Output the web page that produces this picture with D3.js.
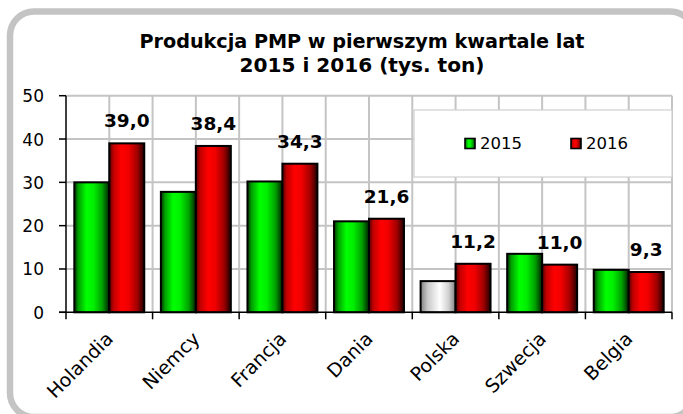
<!DOCTYPE html>
<html>
<head>
<meta charset="utf-8">
<script src="https://cdn.jsdelivr.net/npm/d3@7"></script>
<style>
html,body{margin:0;padding:0;background:#fff;}
svg{display:block;}
</style>
</head>
<body>
<svg id="chart" width="683" height="414"></svg>
<script>
const categories = ["Holandia","Niemcy","Francja","Dania","Polska","Szwecja","Belgia"];
const values2015 = [30.0, 27.8, 30.2, 21.0, 7.2, 13.5, 9.8];
const values2016 = [39.0, 38.4, 34.3, 21.6, 11.2, 11.0, 9.3];
const seriesNames = ["2015","2016"];
const yTicks = [0,10,20,30,40,50];
const titleLines = ["Produkcja PMP w pierwszym kwartale lat","2015 i 2016 (tys. ton)"];

const svg = d3.select("#chart");
const defs = svg.append("defs");
function grad(id, stops){
  const g = defs.append("linearGradient").attr("id",id).attr("x1","0%").attr("x2","100%").attr("y1","0%").attr("y2","0%");
  stops.forEach(s=>g.append("stop").attr("offset",s[0]).attr("stop-color",s[1]));
}
grad("gGreen",[["0%","#003300"],["12%","#00a000"],["35%","#00ff00"],["55%","#00f000"],["80%","#00a000"],["100%","#002000"]]);
grad("gRed",[["0%","#500000"],["12%","#c00000"],["35%","#ff0000"],["55%","#f00000"],["80%","#a00000"],["100%","#200000"]]);
grad("gGray",[["0%","#808080"],["20%","#c8c8c8"],["55%","#ffffff"],["80%","#d0d0d0"],["100%","#808080"]]);

// frame
svg.append("rect").attr("x",10).attr("y",11.5).attr("width",684).attr("height",405.5).attr("rx",24)
  .attr("fill","#fff").attr("stroke","#c4c4c4").attr("stroke-width",6.5);

const plotL = 66, plotR = 672, plotT = 95.7, plotB = 312.3;
const x = d3.scaleBand().domain(categories).range([plotL, plotR]).paddingInner(0).paddingOuter(0);
const bw = x.bandwidth();
const xs = d3.scaleBand().domain(seriesNames).range([bw*0.096, bw*0.904]).padding(0);
const y = d3.scaleLinear().domain([0,50]).range([plotB, plotT]);

// gridlines
const grid = svg.append("g").attr("stroke","#c4c4c4").attr("stroke-width",2);
yTicks.filter(t=>t>0).forEach(t=>grid.append("line").attr("x1",plotL).attr("x2",plotR).attr("y1",y(t)).attr("y2",y(t)));
const vlines = [];
categories.forEach(c=>{ vlines.push(x(c)); vlines.push(x(c)+bw/2); });
vlines.push(plotR);
vlines.filter(v=>v>plotL+1).forEach(v=>grid.append("line").attr("x1",v).attr("x2",v).attr("y1",plotT).attr("y2",plotB));

// legend
const lg = svg.append("g");
lg.append("rect").attr("x",414).attr("y",110).attr("width",258).attr("height",67).attr("fill","#fff").attr("stroke","#d0d0d0").attr("stroke-width",1.2);
const legendItems = [{name:seriesNames[0], fill:"url(#gGreen)", x:465},{name:seriesNames[1], fill:"url(#gRed)", x:571}];
legendItems.forEach(it=>{
  lg.append("rect").attr("x",it.x).attr("y",138.5).attr("width",10).attr("height",10).attr("fill",it.fill).attr("stroke","#000").attr("stroke-width",1.6);
  lg.append("text").attr("x",it.x+15).attr("y",149).attr("font-family","DejaVu Sans").attr("font-size",16.5).attr("fill","#000").text(it.name);
});

// bars
const bars = svg.append("g");
categories.forEach((c,i)=>{
  const v1 = values2015[i], v2 = values2016[i];
  bars.append("rect").attr("x",x(c)+xs(seriesNames[0])).attr("y",y(v1)).attr("width",xs.bandwidth()).attr("height",y(0)-y(v1))
    .attr("fill", c==="Polska" ? "url(#gGray)" : "url(#gGreen)").attr("stroke","#000").attr("stroke-width",2);
  bars.append("rect").attr("x",x(c)+xs(seriesNames[1])).attr("y",y(v2)).attr("width",xs.bandwidth()).attr("height",y(0)-y(v2))
    .attr("fill","url(#gRed)").attr("stroke","#000").attr("stroke-width",2);
  bars.append("text").attr("x",x(c)+xs(seriesNames[1])+xs.bandwidth()/2).attr("y",y(v2)-16)
    .attr("text-anchor","middle").attr("font-family","DejaVu Sans").attr("font-weight","bold").attr("font-size",18.5)
    .attr("fill","#000").text(d3.format(".1f")(v2).replace(".",","));
});

// axes
const axY = svg.append("g");
axY.append("line").attr("x1",plotL).attr("x2",plotL).attr("y1",plotT).attr("y2",plotB).attr("stroke","#000").attr("stroke-width",1.5);
yTicks.forEach(t=>{
  axY.append("line").attr("x1",plotL-7).attr("x2",plotL).attr("y1",y(t)).attr("y2",y(t)).attr("stroke","#000").attr("stroke-width",1.5);
  axY.append("text").attr("x",44).attr("y",y(t)+6.5).attr("text-anchor","end").attr("font-family","DejaVu Sans").attr("font-size",17).attr("fill","#000").text(t);
});
const axX = svg.append("g");
axX.append("line").attr("x1",plotL-7).attr("x2",plotR).attr("y1",plotB).attr("y2",plotB).attr("stroke","#000").attr("stroke-width",1.5);
const bounds = categories.map(c=>x(c)).concat([plotR]);
bounds.forEach(b=>axX.append("line").attr("x1",b).attr("x2",b).attr("y1",plotB).attr("y2",plotB+7).attr("stroke","#000").attr("stroke-width",1.5));
categories.forEach(c=>{
  const cx = x(c)+bw/2;
  axX.append("text").attr("transform",`translate(${cx+5},${340}) rotate(-45)`).attr("text-anchor","end")
    .attr("font-family","DejaVu Sans").attr("font-size",19).attr("fill","#000").text(c);
});

// title
const titleWidths = [445, 245];
titleLines.forEach((t,i)=>{
  const el = svg.append("text").attr("x",362).attr("y",47.7+24*i).attr("text-anchor","middle")
    .attr("font-family","DejaVu Sans Condensed, DejaVu Sans").attr("font-weight","bold").attr("font-size",19).attr("fill","#000").text(t);
  const w = el.node().getComputedTextLength();
  if (Math.abs(w-titleWidths[i])>3) el.attr("textLength",titleWidths[i]).attr("lengthAdjust","spacingAndGlyphs");
});
</script>
</body>
</html>
